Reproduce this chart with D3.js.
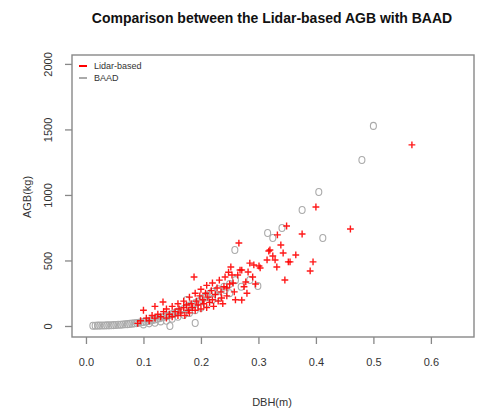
<!DOCTYPE html>
<html lang="en">
<head>
  <meta charset="UTF-8">
  <title>Lidar AGB vs BAAD</title>
  <style>
    body { margin: 0; background: #fff; }
    text { font-family: "Liberation Sans", Arial, Helvetica, sans-serif; }
  </style>
  <script src="https://cdn.jsdelivr.net/npm/d3@7"></script>
</head>
<body>
<svg id="chart" width="478" height="411"></svg>
<script>
// DBH (m) and AGB (kg) for Lidar-based estimates
var lidarDbh = [0.09,0.095,0.1,0.105,0.11,0.115,0.12,0.12,0.125,0.13,0.134,0.135,0.14,0.14,0.145,0.15,0.15,0.155,0.16,0.16,
  0.162,0.165,0.17,0.17,0.172,0.175,0.178,0.18,0.18,0.183,0.185,0.188,0.19,0.19,0.192,0.195,0.198,0.2,0.2,
  0.203,0.205,0.208,0.21,0.21,0.212,0.215,0.218,0.22,0.22,0.222,0.225,0.228,0.23,0.232,0.235,0.236,0.238,0.24,0.242,0.245,0.245,0.248,0.25,0.252,0.254,0.256,0.258,
  0.26,0.264,0.266,0.268,0.271,0.271,0.275,0.278,0.28,0.282,0.285,0.29,0.292,0.295,0.301,0.303,
  0.315,0.318,0.32,0.325,0.329,0.332,0.333,0.339,0.343,0.346,0.349,0.352,0.355,0.365,0.376,0.39,0.395,0.40,0.46,0.567];
var lidarAgb = [20,40,120,60,40,80,150,60,90,70,183,110,60,130,90,150,70,110,170,80,
  130,100,190,140,80,160,120,220,100,170,140,374,250,120,190,160,230,130,280,
  200,170,250,140,310,220,180,270,328,200,150,240,290,190,350,260,214,170,300,374,290,230,410,320,450,389,328,260,
  200,389,633,427,198,427,300,336,250,412,480,374,466,320,458,443,
  504,572,580,534,504,450,695,618,557,351,763,489,489,542,702,420,489,908,740,1382];

// DBH (m) and AGB (kg) for BAAD records
var baadDbh = [0.012,0.016,0.02,0.024,0.028,0.032,0.036,0.04,0.044,0.048,0.052,0.056,0.06,0.064,0.068,0.072,0.076,0.08,0.084,0.088,
  0.092,0.096,0.1,0.1,0.104,0.108,0.11,0.112,0.116,0.12,0.12,0.124,0.128,0.13,0.132,0.136,0.14,0.14,0.144,0.146,
  0.148,0.15,0.152,0.156,0.16,0.16,0.165,0.17,0.17,0.175,0.175,0.18,0.18,0.185,0.19,0.19,0.19,0.195,0.2,0.2,
  0.205,0.21,0.21,0.215,0.22,0.22,0.23,0.23,0.24,0.242,0.25,0.25,0.259,0.26,0.27,0.285,0.299,
  0.316,0.325,0.341,0.376,0.405,0.412,0.48,0.5];
var baadAgb = [2,2,3,3,4,4,5,5,6,7,8,9,10,11,13,14,16,18,20,22,
  25,28,30,12,34,38,20,42,46,50,25,55,60,35,65,70,40,75,80,0,
  88,55,95,100,70,110,120,85,130,198,140,100,150,160,23,120,175,185,140,200,
  215,170,230,245,200,260,280,220,300,275,250,320,580,350,300,351,305,
  710,672,748,885,1023,672,1267,1527];

var xTicks = [0, 0.1, 0.2, 0.3, 0.4, 0.5, 0.6];
var yTicks = [0, 500, 1000, 1500, 2000];
var legendLabels = ["Lidar-based", "BAAD"];

var svg = d3.select("#chart");
var box = {left: 72, right: 474, top: 55, bottom: 337};

var x = d3.scaleLinear().domain([-0.0243, 0.675]).range([box.left, box.right]);
var y = d3.scaleLinear().domain([-84, 2068]).range([box.bottom, box.top]);

var axisColor = "#888";

// points: BAAD first, Lidar on top
var baad = baadDbh.map(function(d, i) { return {x: d, y: baadAgb[i]}; });
var lidar = lidarDbh.map(function(d, i) { return {x: d, y: lidarAgb[i]}; });

svg.append("g").selectAll("ellipse")
  .data(baad)
  .enter().append("ellipse")
    .attr("cx", function(d) { return x(d.x); })
    .attr("cy", function(d) { return y(d.y); })
    .attr("rx", 3)
    .attr("ry", 3.5)
    .attr("fill", "none")
    .attr("stroke", "#aaa")
    .attr("stroke-width", 1.1);

svg.append("g").selectAll("path")
  .data(lidar)
  .enter().append("path")
    .attr("d", function(d) {
      var cx = x(d.x), cy = y(d.y), a = 3.4;
      return "M" + (cx - a) + "," + cy + "H" + (cx + a) + "M" + cx + "," + (cy - a) + "V" + (cy + a);
    })
    .attr("stroke", "#ff0000")
    .attr("stroke-opacity", 0.9)
    .attr("stroke-width", 1.4)
    .attr("fill", "none");

// frame
svg.append("rect")
  .attr("x", box.left).attr("y", box.top)
  .attr("width", box.right - box.left).attr("height", box.bottom - box.top)
  .attr("fill", "none").attr("stroke", axisColor).attr("stroke-width", 1.4);

// x axis
var xAxis = svg.append("g")
  .attr("transform", "translate(0," + box.bottom + ")")
  .call(d3.axisBottom(x).tickValues(xTicks).tickSize(7).tickPadding(14).tickFormat(d3.format(".1f")));
xAxis.select(".domain").remove();
xAxis.selectAll("line").attr("stroke", axisColor).attr("stroke-width", 1.3);
xAxis.selectAll("text").attr("font-size", 11).attr("fill", "#333")
  .style("font-family", "'Liberation Sans', Arial, sans-serif");

// y axis (labels rotated like R)
var yAxis = svg.append("g")
  .attr("transform", "translate(" + box.left + ",0)")
  .call(d3.axisLeft(y).tickValues(yTicks).tickSize(7).tickFormat(d3.format("d")));
yAxis.select(".domain").remove();
yAxis.selectAll("line").attr("stroke", axisColor).attr("stroke-width", 1.3);
yAxis.selectAll("text")
  .attr("font-size", 11).attr("fill", "#333")
  .style("font-family", "'Liberation Sans', Arial, sans-serif")
  .attr("x", null).attr("dy", null)
  .attr("text-anchor", "middle")
  .attr("transform", "translate(-20,0) rotate(-90)");

// titles
svg.append("text")
  .attr("x", 272).attr("y", 23)
  .attr("text-anchor", "middle")
  .attr("font-size", 14).attr("font-weight", "bold").attr("fill", "#111")
  .text("Comparison between the Lidar-based AGB with BAAD");

svg.append("text")
  .attr("x", 272).attr("y", 406)
  .attr("text-anchor", "middle")
  .attr("font-size", 11).attr("fill", "#333")
  .text("DBH(m)");

svg.append("text")
  .attr("transform", "translate(31,197) rotate(-90)")
  .attr("text-anchor", "middle")
  .attr("font-size", 11).attr("fill", "#333")
  .text("AGB(kg)");

// legend
var legendColors = ["#ff0000", "#aaa"];
var lg = svg.append("g").selectAll("g")
  .data(legendLabels)
  .enter().append("g")
    .attr("transform", function(d, i) { return "translate(0," + (66 + i * 12) + ")"; });
lg.append("line")
  .attr("x1", 79).attr("x2", 87)
  .attr("stroke", function(d, i) { return legendColors[i]; })
  .attr("stroke-width", 2);
lg.append("text")
  .attr("x", 94).attr("dy", "0.35em")
  .attr("font-size", 9).attr("fill", "#333")
  .text(function(d) { return d; });
</script>
</body>
</html>
